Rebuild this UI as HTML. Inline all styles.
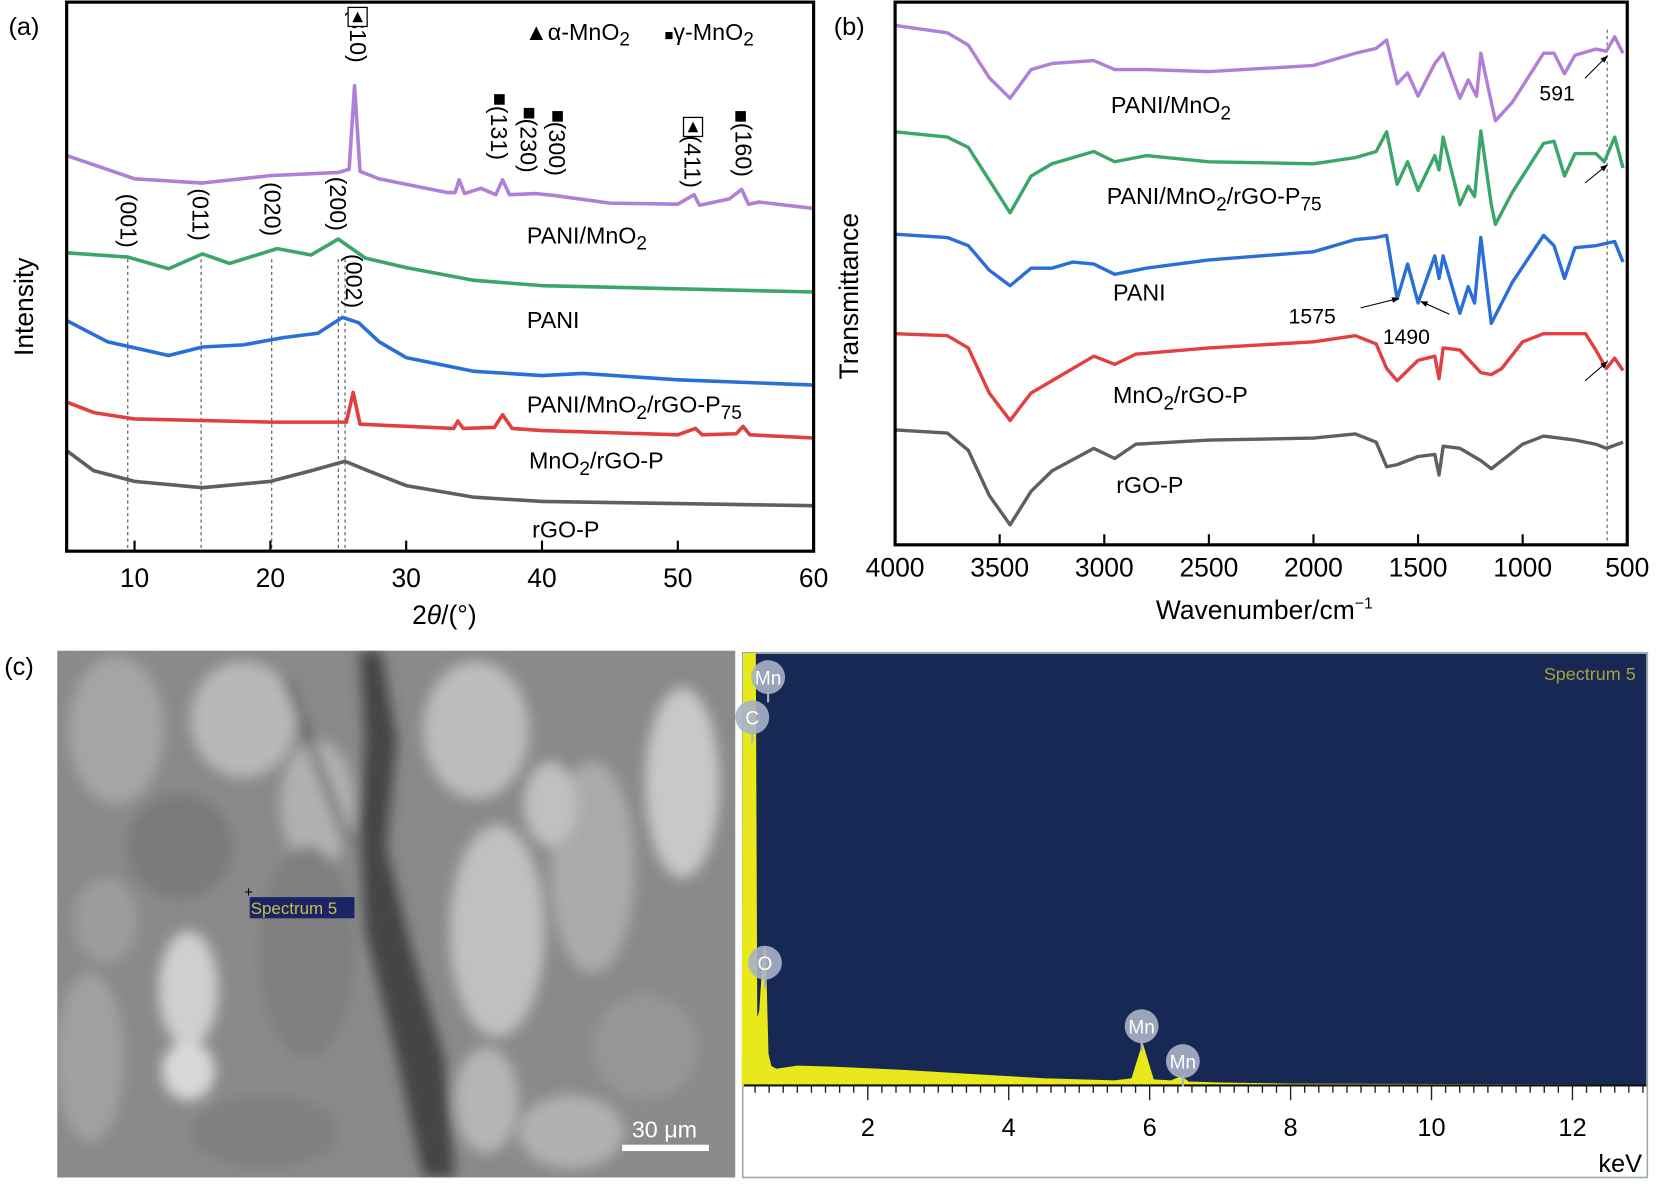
<!DOCTYPE html>
<html><head><meta charset="utf-8"><style>
html,body{margin:0;padding:0;background:#fff}
svg{display:block}
text{font-family:"Liberation Sans",Arial,sans-serif}
</style></head><body>
<svg id="fig" width="1659" height="1187" viewBox="0 0 1568 1122" preserveAspectRatio="none" xmlns="http://www.w3.org/2000/svg">
<defs>
<filter id="blur8" x="-20%" y="-20%" width="140%" height="140%"><feGaussianBlur stdDeviation="6"/></filter>
<clipPath id="semclip"><rect x="54" y="615" width="641" height="498"/></clipPath>
<marker id="arr" viewBox="0 0 10 10" refX="9" refY="5" markerWidth="7" markerHeight="7" orient="auto"><path d="M0,1 L10,5 L0,9 z" fill="#000"/></marker>
</defs>

<g id="panelA">
<text x="8" y="33" font-size="24">(a)</text>
<g id="aDash"></g>
<g id="aSeries"></g>
<rect x="63" y="2" width="706" height="519" fill="none" stroke="#000" stroke-width="3"/>
<g id="aTicks"></g>
<text x="420" y="590" font-size="25" text-anchor="middle">2<tspan font-style="italic">θ</tspan>/(°)</text>
<text transform="translate(31,290) rotate(-90)" font-size="25" text-anchor="middle">Intensity</text>
<g>
<text x="496" y="38" font-size="22">▲α-MnO<tspan font-size="18" dy="5">2</tspan></text>
<text x="628" y="38" font-size="22"><tspan font-size="14">■</tspan>γ-MnO<tspan font-size="18" dy="5">2</tspan></text>
</g>
<g id="aPeaks" font-size="22"></g>
<g font-size="22">
<text x="498" y="230">PANI/MnO<tspan font-size="18" dy="6">2</tspan></text>
<text x="498" y="310">PANI</text>
<text x="498" y="390">PANI/MnO<tspan font-size="18" dy="6">2</tspan><tspan dy="-6">/rGO-P</tspan><tspan font-size="18" dy="6">75</tspan></text>
<text x="500" y="443">MnO<tspan font-size="18" dy="6">2</tspan><tspan dy="-6">/rGO-P</tspan></text>
<text x="503" y="508">rGO-P</text>
</g>
</g>

<g id="panelB">
<text x="788" y="33" font-size="24">(b)</text>
<line x1="1519" y1="28" x2="1519" y2="515" stroke="#555" stroke-width="1" stroke-dasharray="3,3"/>
<g id="bSeries"></g>
<rect x="846" y="2" width="692" height="513" fill="none" stroke="#000" stroke-width="3"/>
<g id="bTicks"></g>
<text x="1195" y="585" font-size="25" text-anchor="middle">Wavenumber/cm<tspan font-size="15" dy="-10">−1</tspan></text>
<text transform="translate(811,280) rotate(-90)" font-size="25" text-anchor="middle">Transmittance</text>
<g font-size="22">
<text x="1050" y="107">PANI/MnO<tspan font-size="18" dy="6">2</tspan></text>
<text x="1046" y="193">PANI/MnO<tspan font-size="18" dy="6">2</tspan><tspan dy="-6">/rGO-P</tspan><tspan font-size="18" dy="6">75</tspan></text>
<text x="1052" y="284">PANI</text>
<text x="1052" y="381">MnO<tspan font-size="18" dy="6">2</tspan><tspan dy="-6">/rGO-P</tspan></text>
<text x="1055" y="466">rGO-P</text>
<text x="1218" y="306" font-size="20">1575</text>
<text x="1307" y="325" font-size="20">1490</text>
<text x="1455" y="95" font-size="20">591</text>
</g>
<g stroke="#000" stroke-width="1" marker-end="url(#arr)">
<line x1="1286" y1="291" x2="1322" y2="282"/>
<line x1="1370" y1="297" x2="1343" y2="285"/>
<line x1="1498" y1="74" x2="1519" y2="53"/>
<line x1="1498" y1="173" x2="1519" y2="156"/>
<line x1="1498" y1="360" x2="1519" y2="342"/>
</g>
</g>

<g id="panelC">
<text x="4" y="638" font-size="24">(c)</text>
<g clip-path="url(#semclip)">
<rect x="54" y="615" width="641" height="498" fill="#8a8a8a"/>
<g filter="url(#blur8)">
<ellipse cx="110" cy="690" rx="45" ry="70" fill="#a5a5a5"/>
<ellipse cx="230" cy="680" rx="50" ry="55" fill="#b8b8b8"/>
<ellipse cx="300" cy="760" rx="35" ry="60" fill="#b0b0b0"/>
<ellipse cx="170" cy="800" rx="50" ry="50" fill="#7a7a7a"/>
<ellipse cx="290" cy="900" rx="45" ry="100" fill="#7f7f7f"/>
<ellipse cx="178" cy="935" rx="28" ry="55" fill="#cfcfcf"/>
<ellipse cx="178" cy="1012" rx="25" ry="28" fill="#d8d8d8"/>
<ellipse cx="85" cy="1000" rx="32" ry="80" fill="#a0a0a0"/>
<ellipse cx="100" cy="870" rx="30" ry="40" fill="#9c9c9c"/>
<ellipse cx="450" cy="690" rx="50" ry="65" fill="#bcbcbc"/>
<ellipse cx="470" cy="880" rx="45" ry="100" fill="#c0c0c0"/>
<ellipse cx="560" cy="820" rx="40" ry="100" fill="#aaaaaa"/>
<ellipse cx="645" cy="740" rx="35" ry="90" fill="#c8c8c8"/>
<ellipse cx="520" cy="760" rx="25" ry="40" fill="#c0c0c0"/>
<ellipse cx="610" cy="990" rx="50" ry="50" fill="#969696"/>
<ellipse cx="540" cy="1070" rx="50" ry="35" fill="#b0b0b0"/>
<ellipse cx="250" cy="1070" rx="70" ry="35" fill="#808080"/>
<ellipse cx="460" cy="1040" rx="30" ry="50" fill="#b5b5b5"/>
<path d="M360,615 L375,700 L365,800 L390,900 L420,1000 L430,1113 L400,1113 L375,1000 L345,880 L340,780 L345,700 L340,615 Z" fill="#444"/>
<path d="M270,640 L300,720 L330,800" stroke="#555" stroke-width="6" fill="none"/>
</g>
<rect x="236" y="848" width="99" height="20" fill="#1a2466"/>
<text x="237" y="864" font-size="16" fill="#c8c040">Spectrum 5</text>
<text x="235" y="848" font-size="14" fill="#000" text-anchor="middle">+</text>
<text x="628" y="1075" font-size="22" fill="#fff" text-anchor="middle">30 μm</text>
<rect x="588" y="1082" width="82" height="6" fill="#fff"/>
</g>
<rect x="702" y="617" width="855" height="496" fill="#fff" stroke="#9aa" stroke-width="1.5"/>
<rect x="703" y="618" width="853" height="408" fill="#172854"/>
<g id="cSpec"></g>
<text x="1546" y="643" font-size="17" fill="#a8a040" text-anchor="end">Spectrum 5</text>
<text x="1552" y="1108" font-size="24" text-anchor="end">keV</text>
</g>
</svg>
<script>
const NS='http://www.w3.org/2000/svg';
const xrdTicks=[10,20,30,40,50,60];
const pmTheta=[5,10,15,20,25,25.8,26.2,26.6,28,33,33.6,33.9,34.3,35.5,36.6,37.1,37.6,39.6,41,45,50,51.2,51.6,53.8,54.7,55.2,56,60];
const pmInt=[374,352,348,355,358,361,440,359,352,339,339,351,338,343,337,351,337,338,336,329,328,337,327,333,342,328,330,324];
const paniTheta=[5,9.5,12.5,15,17,20.5,23,25,27,30,35,40,50,60];
const paniInt=[282,278,267,281,272,286,280,295,277,268,256,251,248,245];
const pmrTheta=[5,8,12.5,15,18,21,23.5,25.3,26.5,28,30,35,40,43,50,60];
const pmrInt=[218,198,185,193,195,202,206,221,216,198,183,170,166,168,162,157];
const mrTheta=[5,7,10,20,25.6,26.1,26.6,30,33.5,33.8,34.2,36.5,37.1,37.8,40,50,51.3,51.8,54.3,54.8,55.3,60];
const mrInt=[141,131,125,122,122,150,120,118,116,123,116,117,129,116,114,110,116,110,111,118,110,107];
const rgoTheta=[5,7,10,15,20,23,25.5,27,30,35,40,50,60];
const rgoInt=[95,76,66,60,66,76,85,77,62,51,47,45,43];
const refLines=[9.5,14.9,20.1,25.0,25.5];
const ftTicks=[4000,3500,3000,2500,2000,1500,1000,500];
const fwA=[4000,3750,3650,3550,3450,3350,3250,3050,2950,2800,2500,2000,1800,1700,1650,1600,1550,1500,1420,1380,1300,1260,1220,1200,1150,1130,1050,900,850,800,750,650,600,560,520];
const fPM=[62,80,110,190,240,170,155,148,170,170,175,160,130,118,98,205,178,235,155,130,240,195,235,130,250,295,250,130,130,180,135,120,125,90,130];
const fwB=[4000,3750,3650,3550,3450,3350,3250,3050,2950,2800,2500,2000,1800,1700,1650,1600,1550,1500,1420,1400,1380,1300,1260,1230,1200,1150,1130,1050,900,850,800,750,650,610,560,520];
const fPMR=[322,335,360,440,520,430,400,370,395,380,395,400,385,370,322,450,395,465,380,415,335,500,455,480,320,500,548,470,350,345,430,375,375,395,335,410];
const fwC=[4000,3750,3650,3550,3450,3350,3250,3150,3050,2950,2800,2500,2000,1800,1700,1650,1600,1550,1500,1420,1400,1380,1300,1260,1230,1200,1150,1050,900,850,800,750,650,560,520];
const fPANI=[572,580,600,660,698,655,655,640,645,670,655,635,615,585,580,575,730,645,740,625,680,625,765,700,740,580,790,690,575,600,680,605,600,590,640];
const fwD=[4000,3750,3650,3550,3450,3350,3250,3050,2950,2850,2500,2000,1800,1700,1650,1600,1500,1420,1400,1380,1300,1200,1150,1100,1000,900,700,650,600,560,520];
const fMR=[815,820,850,960,1027,960,930,870,890,865,850,835,820,840,900,930,880,870,925,850,855,910,915,900,835,815,815,855,900,875,905];
const fwE=[4000,3750,3650,3550,3450,3350,3250,3050,2950,2850,2500,2000,1800,1700,1650,1600,1500,1420,1400,1380,1300,1200,1150,1100,1000,900,750,650,600,520];
const fRGO=[1050,1058,1100,1210,1282,1200,1150,1095,1120,1085,1075,1070,1060,1080,1140,1135,1115,1110,1160,1090,1095,1125,1145,1125,1085,1065,1075,1085,1095,1080];
const edsTicks=[2,4,6,8,10,12];
const edsE=[0.22,0.24,0.4,0.42,0.47,0.52,0.54,0.58,0.62,0.7,1.0,1.5,2.5,3.5,4.5,5.5,5.75,5.9,6.05,6.3,6.45,6.55,7,8,13];
const edsC=[0,408,408,60,70,120,130,30,18,15,18,17,14,10,6,4,6,38,5,4,8,3,2,1,0];

const xA=t=>63+(t-5)*(706/55);
const yA=v=>521-v;
const xB=w=>846+(4000-w)*(692/3500);
const yB=v=>v*0.387;
const xC=e=>687+e*66.6;
const yC=c=>1026-c;

function mk(tag,attrs,parent){const e=document.createElementNS(NS,tag);for(const k in attrs)e.setAttribute(k,attrs[k]);parent.appendChild(e);return e;}
function line(xs,ys,fx,fy){return xs.map((x,i)=>(i?'L':'M')+fx(x).toFixed(1)+','+fy(ys[i]).toFixed(1)).join(' ');}

const aS=document.getElementById('aSeries');
[[pmTheta,pmInt,'#b07fd8','xrd-pani-mno2'],[paniTheta,paniInt,'#3aa66a','xrd-pani'],[pmrTheta,pmrInt,'#2a6fd8','xrd-pani-mno2-rgo'],[mrTheta,mrInt,'#e23f3f','xrd-mno2-rgo'],[rgoTheta,rgoInt,'#5f5f5f','xrd-rgo']].forEach(s=>{
  const p=mk('path',{d:line(s[0],s[1],xA,yA),fill:'none',stroke:s[2],'stroke-width':3.4,'stroke-linejoin':'round'},aS);
  
  
});
const aD=document.getElementById('aDash');
refLines.forEach(t=>{
  const l=mk('line',{x1:xA(t),x2:xA(t),y1:245,y2:521,stroke:'#444','stroke-width':1,'stroke-dasharray':'3,3'},aD);
  
  
});
const aT=document.getElementById('aTicks');
xrdTicks.forEach(t=>{
  const tk=mk('line',{x1:xA(t),x2:xA(t),y1:521,y2:511,stroke:'#000','stroke-width':2},aT);
  
  
  const tx=mk('text',{x:xA(t),y:555,'font-size':25,'text-anchor':'middle'},aT);
  tx.textContent=t;
  
  
});
const aP=document.getElementById('aPeaks');
const peakLbl=[['(310)',331,8],['(131)',464,100],['(230)',492,112],['(300)',519,115],['(411)',647,128],['(160)',695,116],['(001)',114,183],['(011)',182,178],['(020)',250,172],['(200)',312,167],['(002)',327,240]];
peakLbl.forEach(p=>{
  const t=mk('text',{transform:`translate(${p[1]},${p[2]}) rotate(90)`},aP);
  t.textContent=p[0];
  
  
});
[[472,94],[500,107],[527,110],[700,110]].forEach(q=>{
  const r=mk('rect',{x:q[0]-5,y:q[1]-5,width:10,height:10,fill:'#000'},aP);
  
  
});
[[338,16],[655,120]].forEach(q=>{
  const g=mk('g',{},aP);
  
  
  mk('rect',{x:q[0]-9,y:q[1]-9,width:18,height:18,fill:'#fff',stroke:'#000','stroke-width':1.2},g);
  mk('path',{d:`M${q[0]-5},${q[1]+5} L${q[0]+5},${q[1]+5} L${q[0]},${q[1]-5} Z`,fill:'#000'},g);
});

const bS=document.getElementById('bSeries');
[[fwA,fPM,'#b07fd8','ftir-pani-mno2'],[fwB,fPMR,'#3aa66a','ftir-pani-mno2-rgo'],[fwC,fPANI,'#2a6fd8','ftir-pani'],[fwD,fMR,'#e23f3f','ftir-mno2-rgo'],[fwE,fRGO,'#5f5f5f','ftir-rgo']].forEach(s=>{
  const p=mk('path',{d:line(s[0],s[1],xB,yB),fill:'none',stroke:s[2],'stroke-width':3.2,'stroke-linejoin':'round'},bS);
  
  
});
const bT=document.getElementById('bTicks');
ftTicks.forEach(t=>{
  const tk=mk('line',{x1:xB(t),x2:xB(t),y1:515,y2:505,stroke:'#000','stroke-width':2},bT);
  
  
  const tx=mk('text',{x:xB(t),y:545,'font-size':25,'text-anchor':'middle'},bT);
  tx.textContent=t;
  
  
});

const cS=document.getElementById('cSpec');
const area=line(edsE,edsC,xC,yC)+` L${xC(edsE[edsE.length-1])},${yC(0)} L${xC(edsE[0])},${yC(0)} Z`;
const sp=mk('path',{d:area,fill:'#e8e81a',stroke:'#e8e81a','stroke-width':1.5},cS);


mk('line',{x1:703,x2:1556,y1:1026,y2:1026,stroke:'#111','stroke-width':2},cS);
for(let e=0.4;e<=13.05;e+=0.2){const big=Math.abs(e-Math.round(e/2)*2)<0.01;mk('line',{x1:xC(e),x2:xC(e),y1:1027,y2:big?1040:1033,stroke:'#222','stroke-width':1.3},cS);}
edsTicks.forEach(t=>{
  const tx=mk('text',{x:xC(t),y:1074,'font-size':24,'text-anchor':'middle'},cS);
  tx.textContent=t;
  
  
});
const balloons=[['Mn',726,640],['C',711,678],['O',723,910],['Mn',1079,970],['Mn',1118,1003]];
balloons.forEach(b=>{
  const g=mk('g',{},cS);
  
  
  mk('line',{x1:b[1],x2:b[1],y1:b[2]+14,y2:b[2]+24,stroke:'#a9b3c8','stroke-width':2},g);
  mk('circle',{cx:b[1],cy:b[2],r:16,fill:'#a9b3c8',opacity:0.9},g);
  const t=mk('text',{x:b[1],y:b[2]+7,'font-size':18,fill:'#fff','text-anchor':'middle'},g);
  t.textContent=b[0];
});
</script>
</body></html>
